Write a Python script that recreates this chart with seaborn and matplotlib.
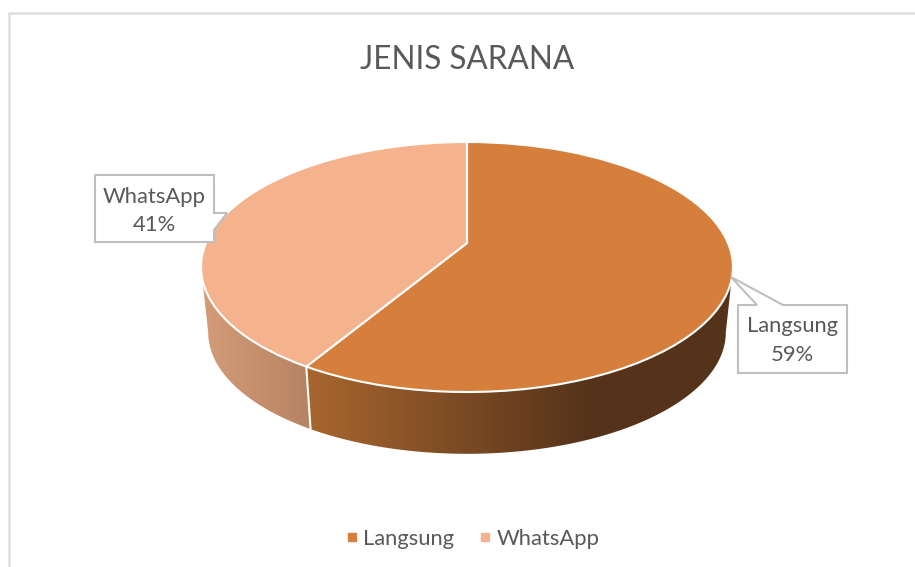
#!/usr/bin/env python3
"""Perspective pie chart "JENIS SARANA" with a side wall and callout labels."""

import matplotlib
matplotlib.use("Agg")
import matplotlib.pyplot as plt
import numpy as np
import seaborn as sns
from matplotlib.colors import to_rgb
from matplotlib.lines import Line2D
from matplotlib.patches import Polygon
from matplotlib.transforms import Transform

# Data
TITLE = "JENIS SARANA"
CATEGORIES = ["Langsung", "WhatsApp"]
VALUES = [58.6, 41.4]

# Colours
TOP_COLORS = ["#D67F3C", "#F4B28D"]
WALL_LEFT = ["#A9672F", "#D59C79"]
WALL_RIGHT = ["#55331A", "#B78463"]
TEXT_COLOR = "#595959"
FRAME_COLOR = "#DEDEDE"
BOX_EDGE = "#BFBFBF"

# Perspective of the disc, in pixels of the 915x567 picture
CX = 467
TILT = 0.192
TOP_DISC = dict(apex_y=243, sx=261, sy=120.4)
BOTTOM_DISC = dict(apex_y=309, sx=254, sy=117)
VISIBLE_FROM, VISIBLE_TO = 101, 259  # clockwise degrees from 12 o'clock


def project(x, y, disc):
    """Unit circle coordinates to picture pixels."""
    w = 1 + TILT * y
    return CX + disc["sx"] * x / w, disc["apex_y"] - disc["sy"] * y / w


class DiscTransform(Transform):
    input_dims = 2
    output_dims = 2
    has_inverse = False

    def __init__(self, disc):
        super().__init__()
        self.disc = disc

    def transform_non_affine(self, values):
        values = np.asarray(values, dtype=float)
        px, py = project(values[:, 0], values[:, 1], self.disc)
        return np.column_stack([px, py])


def draw_wall(ax, start, end, dark, light, x_dark, x_light):
    """Side of the disc between two clockwise angles, as a clipped gradient."""
    angles = np.radians(np.linspace(start, end, 160))
    tx, ty = project(np.sin(angles), np.cos(angles), TOP_DISC)
    bx, by = project(np.sin(angles), np.cos(angles), BOTTOM_DISC)
    outline = np.column_stack([np.r_[tx, bx[::-1]], np.r_[ty, by[::-1]]])
    shape = Polygon(outline, closed=True, facecolor="none", edgecolor="none",
                    transform=ax.transData)
    ax.add_patch(shape)

    x0, x1 = outline[:, 0].min(), outline[:, 0].max()
    y0, y1 = outline[:, 1].min(), outline[:, 1].max()
    xs = np.linspace(x0, x1, 400)
    f = np.clip((xs - x_dark) / (x_light - x_dark), 0, 1)[None, :, None]
    grad = np.array(to_rgb(dark))[None, None, :] * (1 - f) \
        + np.array(to_rgb(light))[None, None, :] * f
    im = ax.imshow(grad, extent=(x0, x1, y1, y0), aspect="auto",
                   interpolation="bilinear", zorder=1)
    im.set_clip_path(shape)


def callout(ax, outline, cx, cy, label):
    ax.add_patch(Polygon(outline, closed=True, facecolor="white",
                         edgecolor=BOX_EDGE, lw=1.5, zorder=5))
    ax.text(cx, cy, label, ha="center", va="center", color=TEXT_COLOR,
            fontsize=15.8, linespacing=1.52, zorder=6)


def main():
    sns.set_theme(style="white")
    plt.rcParams["font.family"] = ["Lato", "DejaVu Sans"]

    fig = plt.figure(figsize=(9.15, 5.67), dpi=100, facecolor="white")
    ax = fig.add_axes([0, 0, 1, 1])

    wedges, _ = ax.pie(VALUES, startangle=90, counterclock=False,
                       colors=sns.color_palette(TOP_COLORS), radius=1,
                       wedgeprops=dict(edgecolor="white", linewidth=1.5))
    ax.set_aspect("auto")
    ax.set_xlim(0, 915)
    ax.set_ylim(567, 0)
    ax.axis("off")

    top_transform = DiscTransform(TOP_DISC) + ax.transData
    for wedge in wedges:
        wedge.set_transform(top_transform)
        wedge.set_zorder(3)

    # Side wall, split where the slices meet
    split = 360 * VALUES[0] / sum(VALUES)
    draw_wall(ax, VISIBLE_FROM, split, WALL_RIGHT[0], WALL_LEFT[0], 590, 306)
    draw_wall(ax, split, VISIBLE_TO, WALL_RIGHT[1], WALL_LEFT[1], 306, 201)
    ax.set_xlim(0, 915)
    ax.set_ylim(567, 0)
    rad = np.radians(split)
    sx0, sy0 = project(np.sin(rad), np.cos(rad), TOP_DISC)
    sx1, sy1 = project(np.sin(rad), np.cos(rad), BOTTOM_DISC)
    ax.plot([sx0, sx1], [sy0, sy1], color="white", lw=1.5, zorder=2)

    # Chart frame (only the top and left edges are in the crop)
    ax.plot([9, 9, 915], [567, 13, 13], color=FRAME_COLOR, lw=1.8, zorder=0,
            solid_joinstyle="miter")

    ax.text(467, 60, TITLE, ha="center", va="center", color=TEXT_COLOR,
            fontsize=22.7)

    labels = [f"{c}\n{round(100 * v / sum(VALUES))}%"
              for c, v in zip(CATEGORIES, VALUES)]
    callout(ax, [(738, 305), (757, 305), (731, 277), (783, 305), (847, 305),
                 (847, 373), (738, 373)], 792.5, 340.5, labels[0])
    callout(ax, [(95, 175), (214, 175), (214, 213), (227, 213), (214, 230),
                 (214, 242), (95, 242)], 154.5, 211, labels[1])

    handles = [Line2D([], [], ls="none", marker="s", ms=6.2, mfc=c, mec=c)
               for c in TOP_COLORS]
    leg = ax.legend(handles, CATEGORIES, ncol=2, frameon=False,
                    loc="center", bbox_to_anchor=(472 / 915, 1 - 539 / 567),
                    bbox_transform=ax.transAxes, fontsize=15.8,
                    handlelength=0.7, handletextpad=0.18, columnspacing=1.05)
    for text in leg.get_texts():
        text.set_color(TEXT_COLOR)

    fig.savefig("out.png", dpi=100, facecolor="white")
    plt.close(fig)


if __name__ == "__main__":
    main()
